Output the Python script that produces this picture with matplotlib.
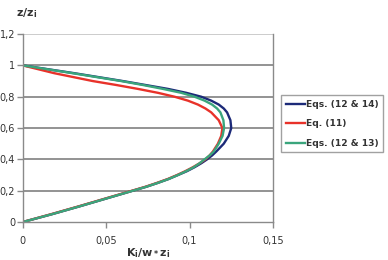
import matplotlib
matplotlib.use("Agg")
import matplotlib.pyplot as plt
from matplotlib.ticker import FuncFormatter

# Data (x = K_i/(w_* z_i), z = z/z_i)
z_levels = [0.0, 0.05, 0.1, 0.15, 0.2, 0.225, 0.25, 0.275, 0.3, 0.325, 0.35, 0.375,
            0.4, 0.425, 0.45, 0.5, 0.55, 0.6, 0.65, 0.7, 0.725, 0.75, 0.775,
            0.8, 0.825, 0.85, 0.875, 0.9, 0.95, 1.0]
x_eq12_14 = [0.0, 0.0175, 0.034, 0.050, 0.066, 0.074, 0.081, 0.0875, 0.093, 0.0985, 0.103, 0.107,
             0.1105, 0.1135, 0.116, 0.1205, 0.1235, 0.125, 0.1245, 0.1225, 0.1205, 0.1175, 0.113,
             0.107, 0.098, 0.087, 0.0735, 0.060, 0.031, 0.0]
x_eq11 = [0.0, 0.017, 0.0335, 0.0495, 0.0655, 0.0735, 0.0805, 0.087, 0.0925, 0.0975, 0.102, 0.106,
          0.1095, 0.112, 0.114, 0.117, 0.119, 0.1197, 0.1175, 0.113, 0.1095, 0.105, 0.099,
          0.091, 0.081, 0.069, 0.056, 0.042, 0.019, 0.0]
x_eq12_13 = [0.0, 0.0175, 0.034, 0.050, 0.066, 0.074, 0.081, 0.0875, 0.093, 0.098, 0.1025, 0.106,
             0.109, 0.112, 0.1145, 0.1175, 0.1198, 0.1207, 0.1203, 0.1185, 0.1165, 0.1135, 0.109,
             0.103, 0.095, 0.084, 0.072, 0.059, 0.030, 0.0]

labels = ["Eqs. (12 & 14)", "Eq. (11)", "Eqs. (12 & 13)"]
colors = ["#1c2a78", "#e8322a", "#3aa57c"]

x_ticks = [0, 0.05, 0.1, 0.15]
y_ticks = [0, 0.2, 0.4, 0.6, 0.8, 1.0, 1.2]

fig = plt.figure(figsize=(3.88, 2.60), dpi=100)
ax = fig.add_axes([0.0585, 0.146, 0.645, 0.723])

for xs, lab, col in zip([x_eq12_14, x_eq11, x_eq12_13], labels, colors):
    ax.plot(xs, z_levels, color=col, lw=1.7, label=lab, solid_joinstyle="round")

ax.set_xlim(0, 0.15)
ax.set_ylim(0, 1.2)
ax.set_xticks(x_ticks)
ax.set_yticks(y_ticks)

def fmt(v, pos):
    s = ("%.2f" % v).rstrip("0").rstrip(".")
    return s.replace(".", ",")

ax.xaxis.set_major_formatter(FuncFormatter(fmt))
ax.yaxis.set_major_formatter(FuncFormatter(fmt))

for yv in y_ticks[1:-1]:
    ax.axhline(yv, color="#8a8a8a", lw=1.3, zorder=0)
ax.axhline(1.2, color="#c8c8c8", lw=1.3, zorder=0)

for side in ["left", "bottom", "right"]:
    ax.spines[side].set_color("#8a8a8a")
    ax.spines[side].set_linewidth(1.0)
ax.spines["top"].set_visible(False)

ax.tick_params(axis="both", direction="out", length=4, width=1.0,
               color="#8a8a8a", labelsize=7, labelcolor="#333333")
ax.tick_params(axis="x", pad=6)
ax.tick_params(axis="y", pad=1.5)

ax.set_xlabel(r"$\mathbf{K_i/w_*z_i}$", fontsize=8, color="#333333", labelpad=0)
fig.text(0.04, 0.95, r"$\mathbf{z/z_i}$", fontsize=8, color="#333333",
         ha="left", va="center")

leg = ax.legend(loc="upper left", bbox_to_anchor=(1.032, 0.675), frameon=True,
                fancybox=False, edgecolor="#8a8a8a", fontsize=6.6,
                handlelength=2.1, handletextpad=0.1, borderpad=0.5,
                labelspacing=1.15, borderaxespad=0)
leg.get_frame().set_linewidth(1.0)
for t in leg.get_texts():
    t.set_fontweight("bold")
    t.set_color("#333333")

fig.savefig("out.png", dpi=100)
